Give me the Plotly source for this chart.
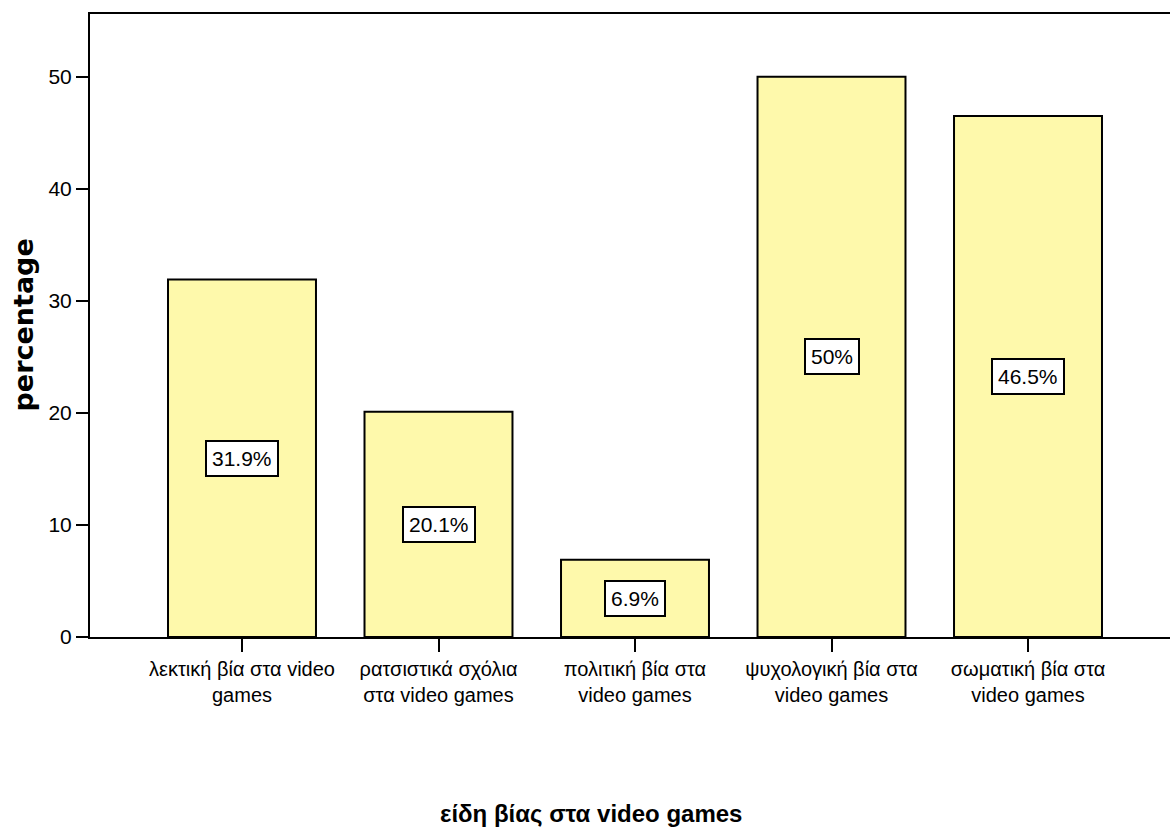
import plotly.graph_objects as go

categories = [
    "λεκτική βία στα video<br>games",
    "ρατσιστικά σχόλια<br>στα video games",
    "πολιτική βία στα<br>video games",
    "ψυχολογική βία στα<br>video games",
    "σωματική βία στα<br>video games",
]
values = [31.9, 20.1, 6.9, 50.0, 46.5]
y_ticks = [0, 10, 20, 30, 40, 50]
x_title = "είδη βίας στα video games"
y_title = "percentage"

positions = list(range(len(categories)))
labels = [f"{v:g}%" for v in values]

fig = go.Figure()
fig.add_trace(go.Bar(
    x=positions, y=values, width=0.753,
    marker=dict(color="#FEF9AB", line=dict(color="black", width=2)),
    hoverinfo="skip", showlegend=False,
))

for xp, v, lab in zip(positions, values, labels):
    fig.add_annotation(
        x=xp, y=v / 2, xref="x", yref="y", text=lab, showarrow=False,
        font=dict(family="Liberation Sans, Arial", size=21, color="black"),
        bgcolor="white", bordercolor="black", borderwidth=2, borderpad=5,
        xanchor="center", yanchor="middle",
    )

fig.add_annotation(
    x=(591 - 90) / 1080, y=-0.283, xref="paper", yref="paper",
    text=f"<b>{x_title}</b>", showarrow=False,
    font=dict(family="Liberation Sans, Arial", size=24, color="black"),
    xanchor="center", yanchor="middle",
)
fig.add_annotation(
    x=(23 - 90) / 1080, y=0.5, xref="paper", yref="paper",
    text=f"<b>{y_title}</b>", showarrow=False, textangle=-90,
    font=dict(family="DejaVu Sans", size=27, color="black"),
    xanchor="center", yanchor="middle",
)

fig.update_layout(
    width=1170, height=830,
    margin=dict(l=90, r=0, t=14, b=193),
    paper_bgcolor="white", plot_bgcolor="white",
    font=dict(family="Liberation Sans, Arial", color="black"),
)
fig.update_xaxes(
    range=[-0.7735, 4.7226],
    tickmode="array", tickvals=positions, ticktext=categories,
    tickfont=dict(size=20, color="black"),
    ticks="outside", ticklen=13, tickwidth=2, tickcolor="black",
    showline=True, linecolor="black", linewidth=2, mirror=True,
    showgrid=False, zeroline=False,
)
fig.update_yaxes(
    range=[0, 55.6],
    tickmode="array", tickvals=y_ticks,
    tickfont=dict(size=21, color="black"),
    ticks="outside", ticklen=12, tickwidth=2, tickcolor="black",
    showline=True, linecolor="black", linewidth=2,
    showgrid=False, zeroline=False,
)

fig.write_html("out.html")
